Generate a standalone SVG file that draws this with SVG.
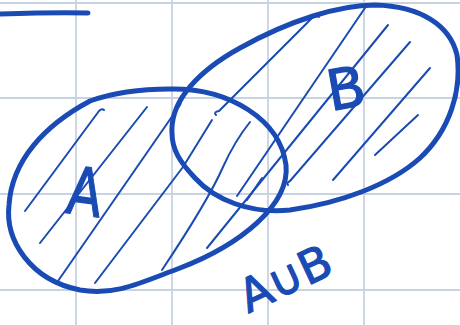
<svg xmlns="http://www.w3.org/2000/svg" width="460" height="325" viewBox="0 0 460 325">
<style>
.grid{stroke:#c7d2e3;stroke-width:1.8;fill:none}
.ink{stroke:#1a4bb4;fill:none;stroke-linecap:round;stroke-linejoin:round}
.thick{stroke-width:5}
.hatch{stroke-width:2}
.lbl{fill:#1a4bb4;stroke:#1a4bb4;stroke-width:1.2;stroke-linejoin:round;font-family:"DejaVu Sans","Liberation Sans",sans-serif}
</style>
<rect width="460" height="325" fill="#ffffff"/>
<g id="grid" class="grid">
<path d="M76,0V325M172,0V325M268,0V325M364,0V325M0,3H460M0,98H460M0,194H460M0,290H460"/>
</g>
<g id="stroke-top" class="ink thick">
<path d="M0,14 C30,13 60,12 88,13"/>
</g>
<g id="setA">
<path class="ink thick" d="M170,89 C230,88 280,120 286,165 C290,205 240,245 180,268 C140,283 115,296 80,290 C30,280 5,240 9,205 C12,160 45,125 90,101 C115,92 140,89 170,89 Z"/>
<text class="lbl" x="0" y="0" font-size="66" text-anchor="middle" transform="translate(82,215) rotate(8) scale(0.78,1)">A</text>
</g>
<g id="setB">
<path class="ink thick" d="M172,133 C170,100 200,70 240,48 C290,20 340,5 375,5 C420,6 450,25 457,55 C462,90 450,130 420,158 C390,185 340,203 290,210 C250,214 215,200 195,178 C180,162 172,150 172,133 Z"/>
<text class="lbl" x="346" y="108" font-size="56" text-anchor="middle" transform="rotate(-10 346 88)">B</text>
</g>
<g id="connectors" class="ink hatch">
<path d="M25,211 L99,111 Q102,108 104,110"/>
<path d="M40,243 L147,107"/>
<path d="M58,281 L180,105 Q182,102 178,104"/>
<path d="M95,283 L183,167 L212,120"/>
<path d="M216,115 Q213,112 219,111 L313,17 Q316,15 319,17"/>
<path d="M162,270 C190,228 212,192 223,167 C232,147 242,132 250,122"/>
<path d="M207,248 L388,25"/>
<path d="M237,196 L367,5"/>
<path d="M288,185 Q286,183 290,181 L410,42"/>
<path d="M333,180 L430,68"/>
<path d="M375,155 L418,115"/>
<path d="M247,200 L262,178"/>
</g>
<g id="union-label">
<text class="lbl" x="0" y="0" font-size="46" text-anchor="middle" transform="translate(292,293) rotate(-25)">A∪B</text>
</g>
</svg>
